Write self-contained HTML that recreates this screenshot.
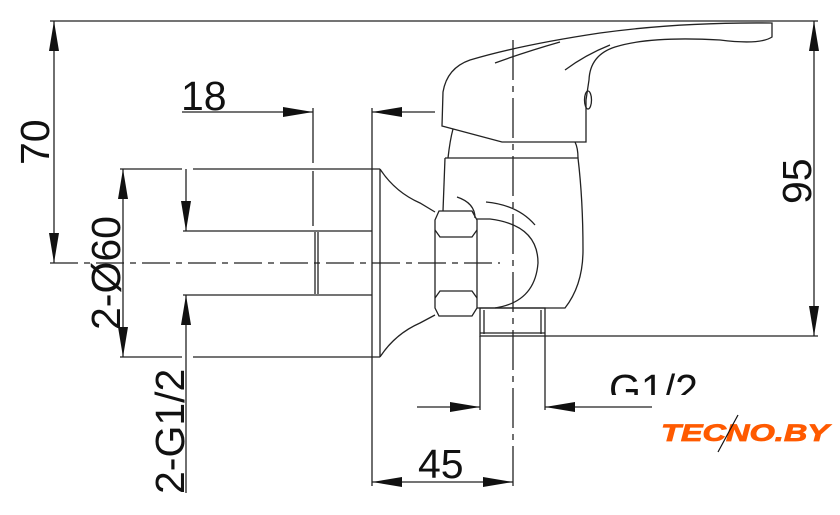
<!DOCTYPE html>
<html><head><style>
html,body{margin:0;padding:0;background:#fff;}
svg{display:block;}
text{font-family:"Liberation Sans",sans-serif;fill:#111;}
</style></head><body>
<svg width="840" height="515" viewBox="0 0 840 515" xmlns="http://www.w3.org/2000/svg">
<defs>
<marker id="a" viewBox="0 0 30 10" refX="30" refY="5" markerWidth="30" markerHeight="10" markerUnits="userSpaceOnUse" orient="auto-start-reverse"><path d="M0,0 L30,5 L0,10 Z" fill="#111"/></marker>
</defs>
<g stroke="#222" stroke-width="1.3" fill="none">
<line x1="50" y1="21" x2="818" y2="21"/>
<line x1="54" y1="21" x2="54" y2="263" marker-start="url(#a)" marker-end="url(#a)"/>
<line x1="50" y1="263" x2="500" y2="263" stroke-dasharray="28,6,6,6"/>
<line x1="513" y1="40" x2="513" y2="488" stroke-dasharray="40,6,6,6"/>
<line x1="120" y1="169" x2="182" y2="169"/>
<line x1="193" y1="169" x2="380" y2="169"/>
<line x1="120" y1="357" x2="182" y2="357"/>
<line x1="193" y1="357" x2="380" y2="357"/>
<line x1="372" y1="108" x2="372" y2="486"/>
<line x1="380" y1="169" x2="380" y2="357"/>
<path d="M380,169 Q395,192 420,203 L435,212"/>
<path d="M380,357 Q395,334 420,323 L435,315"/>
<line x1="183" y1="231" x2="372" y2="231"/>
<line x1="183" y1="295" x2="372" y2="295"/>
<line x1="315" y1="232" x2="315" y2="294"/>
<line x1="318" y1="232" x2="318" y2="294"/>
<line x1="313" y1="108" x2="313" y2="230" stroke-dasharray="55,8"/>
<line x1="182" y1="112" x2="313" y2="112" marker-end="url(#a)"/>
<line x1="435" y1="112" x2="372" y2="112" marker-end="url(#a)"/>
<line x1="123" y1="169" x2="123" y2="357" marker-start="url(#a)" marker-end="url(#a)"/>
<line x1="186" y1="169" x2="186" y2="231" marker-end="url(#a)"/>
<line x1="186" y1="493" x2="186" y2="295" marker-end="url(#a)"/>
<path d="M439,211 L472,211 L477,220 L477,308 L472,316 L439,316 L435,308 L435,220 Z"/>
<path d="M435,230 L440,237 L472,237 L477,230"/>
<path d="M435,298 L440,291 L472,291 L477,298"/>
<path d="M445,158 L578,158 Q583,200 583,250 Q583,285 565,308 L477,308"/>
<line x1="445" y1="158" x2="443" y2="211"/>
<path d="M448,158 Q450,140 453,129"/>
<path d="M578,158 Q578,148 575,142"/>
<path d="M477,219 L490,219 Q538,225 538,263 Q535,302 495,308"/>
<path d="M457,197 Q475,203 475,218"/>
<path d="M486,202 Q518,205 535,225"/>
<path d="M442,126 L443,92 Q447,68 470,60 Q520,45 600,33 Q680,22 772,23 L772,37 Q760,45 720,40 Q650,36 615,47 Q590,55 589,80 L586,100 L586,142 L502,142 L442,126 Z"/>
<ellipse cx="588" cy="100" rx="3.5" ry="9"/>
<path d="M495,63 Q525,52 560,42"/>
<path d="M565,70 Q585,55 610,45"/>
<rect x="480" y="308" width="65" height="28"/>
<line x1="484" y1="310" x2="484" y2="334"/>
<line x1="541" y1="310" x2="541" y2="334"/>
<line x1="480" y1="333" x2="545" y2="333"/>
<line x1="480" y1="336" x2="480" y2="410"/>
<line x1="545" y1="336" x2="545" y2="410"/>
<line x1="545" y1="336" x2="818" y2="336"/>
<line x1="814" y1="21" x2="814" y2="336" marker-start="url(#a)" marker-end="url(#a)"/>
<line x1="417" y1="407" x2="480" y2="407" marker-end="url(#a)"/>
<line x1="652" y1="407" x2="545" y2="407" marker-end="url(#a)"/>
<line x1="372" y1="482" x2="513" y2="482" marker-start="url(#a)" marker-end="url(#a)"/>
</g>
<text x="181" y="110" font-size="41">18</text>
<text x="418" y="478" font-size="41">45</text>
<text font-size="41" transform="translate(49,165) rotate(-90)">70</text>
<text font-size="41" transform="translate(120,330) rotate(-90)">2-Ø60</text>
<text font-size="41" transform="translate(184,494) rotate(-90)">2-G1/2</text>
<text font-size="41" transform="translate(811,204) rotate(-90)">95</text>
<svg x="600" y="360" width="110" height="35"><text x="9" y="43" font-size="41">G1/2</text></svg>
<text x="661" y="441" font-size="24" font-weight="bold" font-style="italic" style="fill:#ff5a00;font-family:'Liberation Sans',sans-serif;stroke:#ff5a00;stroke-width:0.8" textLength="168" lengthAdjust="spacingAndGlyphs">TECNO.BY</text>
<line x1="718" y1="452" x2="738" y2="415" stroke="#111" stroke-width="1.2"/>
</svg>
</body></html>
